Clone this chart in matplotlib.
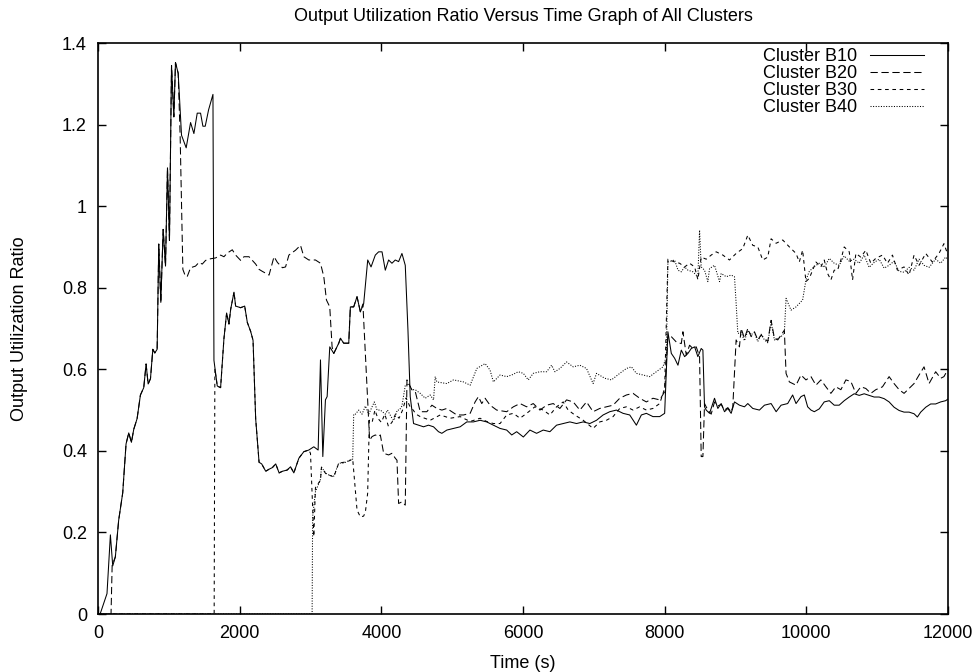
import matplotlib
matplotlib.use("Agg")
import matplotlib.pyplot as plt

plt.rcParams['font.family'] = ['Liberation Sans', 'DejaVu Sans']

# Cluster B10 (solid)
b10_t = [30, 127, 175, 208, 245, 292, 349, 396, 434, 472, 505, 552, 599, 646, 679, 708, 741, 774, 802, 835,
         858, 887, 920, 953, 981, 1009, 1038, 1071, 1094, 1132, 1179, 1245, 1307, 1354, 1401, 1448, 1481, 1514,
         1561, 1623, 1637, 1684, 1731, 1778, 1816, 1849, 1873, 1920, 1943, 2014, 2071, 2108, 2155, 2189, 2226,
         2274, 2311, 2368, 2415, 2462, 2509, 2557, 2604, 2671, 2718, 2765, 2836, 2906, 2976, 3047, 3108, 3141,
         3174, 3211, 3235, 3272, 3329, 3399, 3423, 3469, 3540, 3563, 3610, 3657, 3704, 3751, 3808, 3855, 3915,
         3962, 4010, 4056, 4103, 4150, 4197, 4244, 4291, 4338, 4376, 4408, 4455, 4525, 4596, 4666, 4737, 4807,
         4854, 4925, 5019, 5113, 5207, 5300, 5394, 5488, 5582, 5676, 5770, 5841, 5911, 6005, 6098, 6192, 6286,
         6380, 6474, 6568, 6662, 6756, 6850, 6944, 7038, 7131, 7225, 7319, 7413, 7507, 7601, 7671, 7742, 7835,
         7930, 8000, 8046, 8094, 8141, 8188, 8235, 8282, 8329, 8376, 8423, 8469, 8516, 8540, 8563, 8587, 8634,
         8704, 8751, 8798, 8845, 8892, 8939, 8986, 9056, 9127, 9174, 9244, 9338, 9409, 9503, 9574, 9644, 9737,
         9807, 9855, 9925, 9972, 10019, 10066, 10113, 10183, 10253, 10324, 10394, 10464, 10535, 10606, 10676,
         10747, 10817, 10887, 10958, 11028, 11099, 11169, 11239, 11310, 11380, 11451, 11521, 11568, 11615,
         11686, 11756, 11826, 11897, 11967, 12000]
b10_v = [0.0, 0.05, 0.194, 0.118, 0.14, 0.23, 0.297, 0.417, 0.444, 0.421, 0.453, 0.479, 0.537, 0.555, 0.613,
         0.564, 0.577, 0.649, 0.64, 0.649, 0.907, 0.764, 0.943, 0.853, 1.094, 0.916, 1.345, 1.219, 1.352, 1.326,
         1.174, 1.143, 1.205, 1.178, 1.228, 1.228, 1.196, 1.196, 1.236, 1.274, 0.622, 0.559, 0.555, 0.675, 0.738,
         0.711, 0.747, 0.789, 0.755, 0.751, 0.755, 0.715, 0.693, 0.671, 0.479, 0.372, 0.368, 0.35, 0.355, 0.359,
         0.368, 0.346, 0.35, 0.353, 0.361, 0.346, 0.382, 0.398, 0.402, 0.41, 0.402, 0.623, 0.386, 0.525, 0.533,
         0.655, 0.639, 0.664, 0.676, 0.664, 0.664, 0.753, 0.753, 0.778, 0.741, 0.761, 0.868, 0.851, 0.88, 0.888,
         0.888, 0.843, 0.868, 0.86, 0.868, 0.864, 0.884, 0.855, 0.696, 0.533, 0.467, 0.463, 0.459, 0.463, 0.459,
         0.447, 0.443, 0.451, 0.455, 0.459, 0.471, 0.471, 0.475, 0.471, 0.463, 0.455, 0.451, 0.439, 0.447, 0.434,
         0.451, 0.443, 0.451, 0.447, 0.463, 0.467, 0.471, 0.467, 0.471, 0.467, 0.475, 0.488, 0.496, 0.5, 0.492,
         0.488, 0.463, 0.488, 0.492, 0.484, 0.484, 0.492, 0.692, 0.639, 0.627, 0.61, 0.647, 0.631, 0.639, 0.651,
         0.655, 0.631, 0.651, 0.647, 0.508, 0.5, 0.492, 0.529, 0.504, 0.516, 0.496, 0.504, 0.492, 0.52, 0.512,
         0.508, 0.516, 0.504, 0.5, 0.512, 0.516, 0.496, 0.512, 0.516, 0.537, 0.516, 0.533, 0.537, 0.508, 0.5,
         0.496, 0.503, 0.52, 0.523, 0.512, 0.512, 0.523, 0.532, 0.54, 0.536, 0.54, 0.536, 0.532, 0.532, 0.528,
         0.52, 0.507, 0.499, 0.495, 0.495, 0.491, 0.483, 0.495, 0.507, 0.515, 0.515, 0.52, 0.523, 0.527]

# Cluster B20 (dashed)
b20_t = [0, 184, 200, 245, 292, 349, 396, 434, 472, 505, 552, 599, 646, 679, 708, 741, 774, 802, 835, 858, 887,
         920, 953, 981, 1009, 1038, 1071, 1094, 1132, 1160, 1198, 1230, 1259, 1307, 1377, 1425, 1472, 1519, 1590,
         1660, 1731, 1778, 1826, 1896, 1943, 2014, 2061, 2132, 2179, 2226, 2274, 2321, 2415, 2485, 2533, 2604,
         2648, 2695, 2789, 2859, 2906, 2976, 3070, 3141, 3188, 3225, 3272, 3305, 3329, 3399, 3423, 3469, 3540,
         3563, 3610, 3657, 3704, 3740, 3835, 3869, 3915, 3962, 3986, 4033, 4103, 4150, 4197, 4221, 4244, 4291,
         4338, 4362, 4385, 4430, 4480, 4549, 4643, 4714, 4784, 4855, 4925, 4996, 5066, 5160, 5254, 5324, 5371,
         5418, 5465, 5535, 5629, 5770, 5864, 5958, 6052, 6145, 6239, 6334, 6427, 6521, 6615, 6709, 6803, 6897,
         6990, 7084, 7178, 7272, 7366, 7460, 7554, 7648, 7742, 7835, 7930, 8000, 8046, 8094, 8164, 8235, 8258,
         8305, 8352, 8399, 8446, 8493, 8516, 8540, 8563, 8610, 8657, 8704, 8751, 8798, 8845, 8892, 8939, 8962,
         9009, 9056, 9080, 9127, 9174, 9221, 9268, 9315, 9362, 9409, 9456, 9503, 9550, 9597, 9644, 9690, 9714,
         9761, 9855, 9925, 9995, 10066, 10136, 10206, 10277, 10347, 10417, 10488, 10559, 10629, 10700, 10770,
         10840, 10911, 10981, 11075, 11169, 11239, 11310, 11380, 11451, 11521, 11592, 11662, 11733, 11826,
         11897, 11943, 12000]
b20_v = [0.0, 0.0, 0.12, 0.14, 0.23, 0.297, 0.417, 0.444, 0.421, 0.453, 0.479, 0.537, 0.555, 0.613, 0.564, 0.577,
         0.649, 0.64, 0.649, 0.907, 0.764, 0.943, 0.853, 1.094, 0.916, 1.345, 1.219, 1.352, 1.326, 1.17, 0.845,
         0.83, 0.827, 0.849, 0.853, 0.862, 0.858, 0.867, 0.871, 0.873, 0.88, 0.876, 0.885, 0.893, 0.88, 0.867,
         0.876, 0.876, 0.867, 0.858, 0.845, 0.84, 0.831, 0.876, 0.862, 0.849, 0.851, 0.88, 0.892, 0.904, 0.876,
         0.868, 0.868, 0.86, 0.827, 0.77, 0.753, 0.655, 0.639, 0.664, 0.676, 0.664, 0.664, 0.753, 0.753, 0.778,
         0.741, 0.76, 0.426, 0.435, 0.439, 0.435, 0.439, 0.394, 0.39, 0.394, 0.382, 0.377, 0.271, 0.275, 0.267,
         0.574, 0.566, 0.55, 0.545, 0.496, 0.496, 0.512, 0.504, 0.5, 0.504, 0.496, 0.488, 0.488, 0.492, 0.52,
         0.533, 0.516, 0.529, 0.512, 0.5, 0.496, 0.508, 0.516, 0.508, 0.516, 0.5, 0.512, 0.516, 0.504, 0.525,
         0.52, 0.5, 0.52, 0.496, 0.504, 0.508, 0.512, 0.529, 0.537, 0.541, 0.529, 0.52, 0.529, 0.525, 0.545, 0.68,
         0.68, 0.667, 0.663, 0.692, 0.635, 0.659, 0.651, 0.655, 0.631, 0.386, 0.386, 0.516, 0.5, 0.49, 0.52, 0.51,
         0.514, 0.5, 0.506, 0.495, 0.508, 0.672, 0.655, 0.7, 0.676, 0.7, 0.68, 0.692, 0.672, 0.684, 0.676, 0.668,
         0.72, 0.676, 0.672, 0.684, 0.696, 0.59, 0.569, 0.561, 0.586, 0.574, 0.582, 0.561, 0.574, 0.557, 0.541,
         0.557, 0.55, 0.574, 0.57, 0.541, 0.557, 0.553, 0.541, 0.55, 0.557, 0.582, 0.565, 0.55, 0.541, 0.553,
         0.565, 0.586, 0.606, 0.565, 0.594, 0.578, 0.582, 0.6]

# Cluster B30 (short dashes)
b30_t = [0, 1640, 1650, 1684, 1731, 1778, 1816, 1849, 1873, 1920, 1943, 2014, 2071, 2108, 2155, 2189, 2226, 2274,
         2311, 2368, 2415, 2462, 2509, 2557, 2604, 2671, 2718, 2765, 2836, 2906, 2976, 3000, 3047, 3070, 3141,
         3155, 3216, 3270, 3329, 3399, 3470, 3540, 3596, 3657, 3704, 3750, 3775, 3807, 3831, 3870, 3910, 3950,
         4000, 4050, 4100, 4150, 4200, 4250, 4300, 4350, 4400, 4450, 4490, 4549, 4690, 4831, 4973, 5113, 5254,
         5394, 5488, 5582, 5676, 5770, 5864, 5958, 6052, 6168, 6286, 6380, 6474, 6568, 6638, 6732, 6850, 6990,
         7084, 7178, 7272, 7366, 7460, 7554, 7648, 7742, 7835, 7930, 8000, 8046, 8141, 8211, 8282, 8352, 8423,
         8469, 8516, 8587, 8657, 8728, 8822, 8915, 9009, 9103, 9174, 9244, 9315, 9385, 9456, 9503, 9574, 9667,
         9761, 9855, 9901, 9948, 9995, 10042, 10136, 10206, 10253, 10300, 10347, 10394, 10441, 10488, 10535,
         10606, 10653, 10700, 10770, 10840, 10911, 10981, 11075, 11146, 11216, 11286, 11380, 11451, 11521,
         11592, 11686, 11779, 11873, 11943, 12000]
b30_v = [0.0, 0.0, 0.6, 0.559, 0.555, 0.675, 0.738, 0.711, 0.747, 0.789, 0.755, 0.751, 0.755, 0.715, 0.693,
         0.671, 0.479, 0.372, 0.368, 0.35, 0.355, 0.359, 0.368, 0.346, 0.35, 0.353, 0.361, 0.346, 0.382, 0.398,
         0.402, 0.394, 0.19, 0.31, 0.328, 0.36, 0.344, 0.34, 0.336, 0.37, 0.372, 0.375, 0.38, 0.255, 0.238, 0.24,
         0.25, 0.296, 0.475, 0.47, 0.5, 0.48, 0.47, 0.49, 0.46, 0.47, 0.49, 0.48, 0.5, 0.53, 0.51, 0.5, 0.49,
         0.484, 0.475, 0.488, 0.48, 0.484, 0.472, 0.48, 0.472, 0.467, 0.467, 0.488, 0.492, 0.48, 0.492, 0.508,
         0.5, 0.488, 0.508, 0.52, 0.5, 0.488, 0.475, 0.455, 0.471, 0.475, 0.484, 0.504, 0.508, 0.5, 0.508, 0.5,
         0.504, 0.516, 0.553, 0.87, 0.863, 0.86, 0.851, 0.86, 0.851, 0.82, 0.875, 0.87, 0.88, 0.888, 0.88, 0.868,
         0.884, 0.896, 0.929, 0.904, 0.9, 0.868, 0.875, 0.92, 0.909, 0.917, 0.9, 0.884, 0.863, 0.892, 0.815,
         0.823, 0.863, 0.851, 0.868, 0.835, 0.819, 0.843, 0.843, 0.868, 0.9, 0.888, 0.819, 0.884, 0.875, 0.892,
         0.86, 0.872, 0.88, 0.86, 0.88, 0.843, 0.851, 0.831, 0.88, 0.855, 0.884, 0.863, 0.884, 0.908, 0.88]

# Cluster B40 (dotted)
b40_t = [0, 3023, 3030, 3070, 3141, 3155, 3216, 3270, 3329, 3399, 3470, 3540, 3596, 3610, 3634, 3681, 3728,
         3775, 3822, 3901, 3940, 3986, 4056, 4087, 4150, 4180, 4225, 4255, 4291, 4338, 4385, 4430, 4478, 4549,
         4620, 4690, 4737, 4761, 4784, 4925, 5019, 5160, 5254, 5348, 5465, 5535, 5582, 5676, 5770, 5841, 5934,
         6005, 6075, 6145, 6239, 6334, 6404, 6451, 6521, 6615, 6709, 6803, 6897, 6990, 7038, 7155, 7249, 7366,
         7460, 7531, 7601, 7695, 7789, 7883, 7976, 8024, 8046, 8141, 8188, 8235, 8282, 8329, 8399, 8469, 8493,
         8516, 8563, 8610, 8634, 8704, 8775, 8798, 8869, 8939, 8986, 9009, 9033, 9080, 9127, 9174, 9221, 9268,
         9315, 9362, 9409, 9456, 9503, 9550, 9597, 9644, 9690, 9714, 9784, 9855, 9948, 9995, 10042, 10113,
         10183, 10253, 10324, 10394, 10464, 10535, 10606, 10676, 10747, 10817, 10887, 10958, 11028, 11099,
         11169, 11239, 11310, 11380, 11451, 11521, 11592, 11662, 11733, 11826, 11897, 11967, 12000]
b40_v = [0.0, 0.0, 0.238, 0.3, 0.33, 0.36, 0.345, 0.34, 0.338, 0.37, 0.37, 0.376, 0.38, 0.49, 0.49, 0.5, 0.49,
         0.51, 0.49, 0.52, 0.5, 0.5, 0.49, 0.5, 0.48, 0.475, 0.5, 0.5, 0.51, 0.56, 0.565, 0.55, 0.55, 0.541,
         0.529, 0.537, 0.525, 0.582, 0.569, 0.565, 0.574, 0.569, 0.561, 0.602, 0.614, 0.598, 0.569, 0.586, 0.582,
         0.586, 0.594, 0.59, 0.574, 0.59, 0.594, 0.594, 0.61, 0.594, 0.602, 0.618, 0.606, 0.61, 0.602, 0.565,
         0.59, 0.578, 0.574, 0.59, 0.602, 0.606, 0.59, 0.586, 0.582, 0.594, 0.606, 0.631, 0.863, 0.868, 0.843,
         0.839, 0.851, 0.843, 0.839, 0.827, 0.941, 0.851, 0.843, 0.815, 0.847, 0.855, 0.815, 0.835, 0.827, 0.831,
         0.827, 0.762, 0.688, 0.69, 0.67, 0.695, 0.685, 0.69, 0.668, 0.686, 0.672, 0.665, 0.715, 0.672, 0.676,
         0.68, 0.69, 0.774, 0.745, 0.753, 0.77, 0.819, 0.84, 0.852, 0.86, 0.85, 0.872, 0.86, 0.855, 0.878, 0.865,
         0.87, 0.86, 0.88, 0.85, 0.862, 0.87, 0.848, 0.855, 0.865, 0.84, 0.838, 0.85, 0.843, 0.87, 0.855, 0.85,
         0.87, 0.86, 0.875, 0.87]

x_ticks = [0, 2000, 4000, 6000, 8000, 10000, 12000]
y_ticks = [0, 0.2, 0.4, 0.6, 0.8, 1.0, 1.2, 1.4]
y_tick_labels = ["0", "0.2", "0.4", "0.6", "0.8", "1", "1.2", "1.4"]

fs = 13
fig = plt.figure(figsize=(9.78, 6.72), dpi=100)
ax = fig.add_axes([0.1002, 0.0863, 0.8691, 0.8497])

lw = 0.75
ax.plot(b10_t, b10_v, color='black', linewidth=lw, linestyle='-', label='Cluster B10')
ax.plot(b20_t, b20_v, color='black', linewidth=lw, linestyle=(0, (7, 3.5)), label='Cluster B20')
ax.plot(b30_t, b30_v, color='black', linewidth=lw, linestyle=(0, (3.5, 3.5)), label='Cluster B30')
ax.plot(b40_t, b40_v, color='black', linewidth=lw, linestyle=(0, (1, 1.5)), label='Cluster B40')

ax.set_xlim(0, 12000)
ax.set_ylim(0, 1.4)
ax.set_xticks(x_ticks)
ax.set_xticklabels([str(t) for t in x_ticks])
ax.set_yticks(y_ticks)
ax.set_yticklabels(y_tick_labels)
ax.tick_params(direction='in', length=6, width=1, top=True, right=True, labelsize=fs, pad=8)
for s in ax.spines.values():
    s.set_linewidth(1.2)

ax.set_title("Output Utilization Ratio Versus Time Graph of All Clusters", fontsize=fs, pad=16)
ax.set_xlabel("Time (s)", fontsize=fs, labelpad=9)
ax.set_ylabel("Output Utilization Ratio", fontsize=fs, labelpad=24)

ax.legend(loc='upper right', bbox_to_anchor=(0.972, 0.991), frameon=False, markerfirst=False, fontsize=fs,
          handlelength=3.0, labelspacing=0.0, handletextpad=0.7, borderaxespad=0.0, borderpad=0.0)

fig.savefig("out.png", dpi=100)
